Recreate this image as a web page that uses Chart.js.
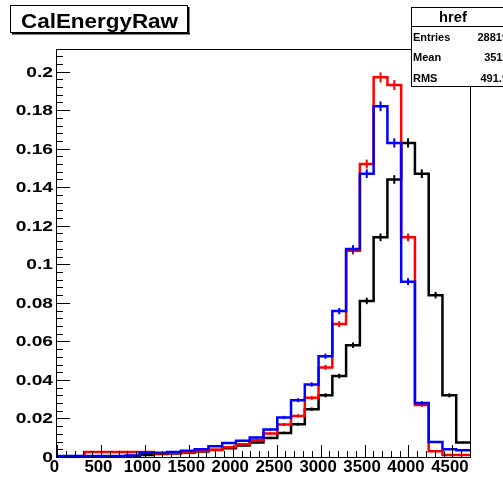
<!DOCTYPE html>
<html lang="en">
<head>
<meta charset="UTF-8">
<title>CalEnergyRaw</title>
<script src="https://cdn.jsdelivr.net/npm/chart.js"></script>
<style>
    body { margin: 0; background: #fff; }
    #wrap { position: relative; width: 503px; height: 477px; }
</style>
</head>
<body>
<div id="wrap"><canvas id="calChart"></canvas></div>
<script>
    // histogram binning: 30 bins over 0..4700
    const xMin = 0
    const xMax = 4700
    const nBins = 30
    const yMax = 0.2112
    const entries = 28819

    const xTicks = [0, 500, 1000, 1500, 2000, 2500, 3000, 3500, 4000, 4500]
    const yTicks = [0, 0.02, 0.04, 0.06, 0.08, 0.1, 0.12, 0.14, 0.16, 0.18, 0.2]
    const yTickLabels = ["0", "0.02", "0.04", "0.06", "0.08", "0.1", "0.12", "0.14", "0.16", "0.18", "0.2"]

    const statsNames = ["Entries", "Mean", "RMS"]
    const statsValues = ["28819", "3511", "491.9"]

    // normalised bin contents, one value per bin
    const blackHist = [0, 0, 0, 0.0002, 0.0003, 0.0005, 0.0010, 0.0015, 0.0018, 0.0022,
        0.0028, 0.0036, 0.0046, 0.0060, 0.0075, 0.0099, 0.0125, 0.0170, 0.0248, 0.0320,
        0.0420, 0.0580, 0.0810, 0.1140, 0.1440, 0.1630, 0.1470, 0.0840, 0.0320, 0.0075]
    const redHist = [0, 0, 0.0026, 0.0026, 0.0026, 0.0026, 0.0026, 0.0018, 0.0020, 0.0024,
        0.0030, 0.0038, 0.0050, 0.0066, 0.0087, 0.0122, 0.0169, 0.0213, 0.0307, 0.0465,
        0.0690, 0.1070, 0.1520, 0.1970, 0.1930, 0.1140, 0.0270, 0.0030, 0.0010, 0.0010]
    const blueHist = [0.0005, 0.0005, 0.0005, 0.0005, 0.0005, 0.0008, 0.0022, 0.0022, 0.0026, 0.0032,
        0.0040, 0.0056, 0.0073, 0.0084, 0.0101, 0.0143, 0.0205, 0.0295, 0.0376, 0.0523,
        0.0757, 0.1080, 0.1470, 0.1820, 0.1630, 0.0910, 0.0280, 0.0078, 0.0040, 0.0035]

    const binWidth = (xMax - xMin) / nBins

    // points at the low edge of each bin plus the last upper edge
    function toSteps(values) {
        let pts = values.map((v, i) => ({ x: xMin + i * binWidth, y: v }))
        pts.push({ x: xMax, y: values[values.length - 1] })
        return pts
    }

    function histDataset(values, color) {
        return {
            data: toSteps(values),
            values: values,
            borderColor: color,
            borderWidth: 2.5,
            stepped: 'before',
            pointRadius: 0,
            fill: false,
            tension: 0
        }
    }

    function stretchedText(ctx, txt, x, y, sx, align) {
        ctx.save()
        ctx.translate(x, y)
        ctx.scale(sx, 1)
        ctx.textAlign = align
        ctx.fillText(txt, 0, 0)
        ctx.restore()
    }

    // vertical error bars at bin centres, drawn right after each histogram
    const errorBars = {
        id: 'errorBars',
        afterDatasetDraw(chart, args) {
            const ds = chart.data.datasets[args.index]
            const xs = chart.scales.x, ys = chart.scales.y
            const ctx = chart.ctx
            const area = chart.chartArea
            ctx.save()
            ctx.beginPath()
            ctx.rect(area.left, area.top, area.right - area.left, area.bottom - area.top)
            ctx.clip()
            ctx.strokeStyle = ds.borderColor
            ctx.lineWidth = 2
            ds.values.forEach((v, i) => {
                if (v <= 0) return
                const err = Math.sqrt(v / entries)
                const px = xs.getPixelForValue(xMin + (i + 0.5) * binWidth)
                ctx.beginPath()
                ctx.moveTo(px, ys.getPixelForValue(v - err))
                ctx.lineTo(px, ys.getPixelForValue(v + err))
                ctx.stroke()
            })
            ctx.restore()
        }
    }

    // frame, inward ticks, labels, title and stats panes
    const rootFrame = {
        id: 'rootFrame',
        afterDraw(chart) {
            const ctx = chart.ctx
            const xs = chart.scales.x, ys = chart.scales.y
            const a = chart.chartArea
            ctx.save()
            ctx.strokeStyle = '#000'
            ctx.fillStyle = '#000'
            ctx.lineWidth = 1
            ctx.strokeRect(a.left - 0.5, a.top - 0.5, a.right - a.left + 1, a.bottom - a.top + 1)

            // x ticks: major every 500, minor every 100
            ctx.beginPath()
            for (let v = xMin; v <= xMax; v += 100) {
                const px = Math.round(xs.getPixelForValue(v)) + 0.5
                const len = (v % 500 === 0) ? 12 : 6
                ctx.moveTo(px, a.bottom)
                ctx.lineTo(px, a.bottom - len)
            }
            // y ticks: major every 0.02, minor every 0.004
            for (let k = 0; k * 0.004 <= yMax; k++) {
                const py = Math.round(ys.getPixelForValue(k * 0.004)) + 0.5
                const len = (k % 5 === 0) ? 13 : 6
                ctx.moveTo(a.left, py)
                ctx.lineTo(a.left + len, py)
            }
            ctx.stroke()

            ctx.textBaseline = 'alphabetic'
            ctx.font = 'bold 15px "Liberation Sans", Arial, sans-serif'
            yTicks.forEach((v, i) => {
                const py = ys.getPixelForValue(v)
                stretchedText(ctx, yTickLabels[i], a.left - 4, py + 5, 1.28, 'right')
            })
            ctx.font = 'bold 16px "Liberation Sans", Arial, sans-serif'
            xTicks.forEach(v => {
                const px = xs.getPixelForValue(v) - 2.5
                stretchedText(ctx, String(v), px, 472, 1.05, 'center')
            })

            // title pave with shadow
            ctx.fillStyle = '#fff'
            ctx.fillRect(10, 5, 178, 28)
            ctx.fillStyle = '#000'
            ctx.fillRect(12, 33, 178, 1.5)
            ctx.fillRect(188, 7, 1.5, 27)
            ctx.strokeRect(10.5, 5.5, 177, 27)
            ctx.font = 'bold 19.5px "Liberation Sans", Arial, sans-serif'
            stretchedText(ctx, 'CalEnergyRaw', 21, 27.5, 1.15, 'left')

            // stats box
            ctx.fillStyle = '#fff'
            ctx.fillRect(411, 7, 110, 80)
            ctx.strokeRect(411.5, 7.5, 110, 79)
            ctx.beginPath()
            ctx.moveTo(411, 26.5)
            ctx.lineTo(521, 26.5)
            ctx.stroke()
            ctx.fillStyle = '#000'
            ctx.font = 'bold 14px "Liberation Sans", Arial, sans-serif'
            stretchedText(ctx, 'href', 453, 22, 1.05, 'center')
            ctx.font = 'bold 11px "Liberation Sans", Arial, sans-serif'
            const rowY = [40.5, 61, 82]
            statsNames.forEach((n, i) => {
                stretchedText(ctx, n, 413, rowY[i], 1.0, 'left')
                stretchedText(ctx, statsValues[i], 508, rowY[i], 1.0, 'right')
            })
            ctx.restore()
        }
    }

    const calChart = new Chart(document.getElementById('calChart'), {
        type: 'line',
        data: {
            datasets: [
                histDataset(blueHist, '#0000ff'),
                histDataset(redHist, '#ff0000'),
                histDataset(blackHist, '#000000')
            ]
        },
        options: {
            responsive: true,
            maintainAspectRatio: false,
            animation: false,
            layout: { padding: { left: 57, right: 33, top: 50, bottom: 20 } },
            plugins: {
                legend: { display: false },
                tooltip: { enabled: false }
            },
            scales: {
                x: { type: 'linear', min: xMin, max: xMax, display: false },
                y: { type: 'linear', min: 0, max: yMax, display: false }
            }
        },
        plugins: [errorBars, rootFrame]
    })
</script>
</body>
</html>
